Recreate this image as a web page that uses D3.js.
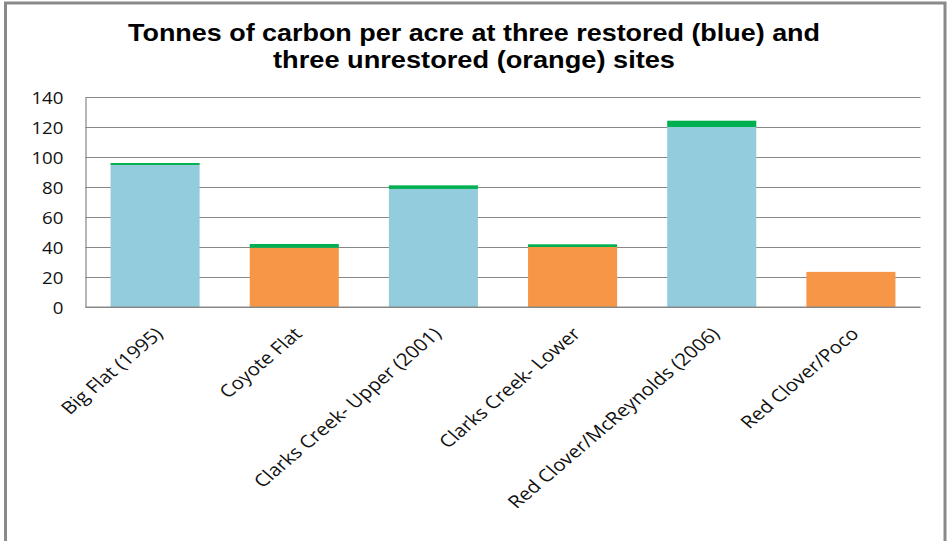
<!DOCTYPE html>
<html>
<head>
<meta charset="utf-8">
<script src="https://cdn.jsdelivr.net/npm/d3@7"></script>
<style>
  body { margin: 0; background: #fff; }
  svg { display: block; }
</style>
</head>
<body>
<div id="wrap"></div>
<script>
// chart data
const sites = ["Big Flat (1995)", "Coyote Flat", "Clarks Creek- Upper (2001)", "Clarks Creek- Lower", "Red Clover/McReynolds (2006)", "Red Clover/Poco"];
const restored = [true, false, true, false, true, false];
const baseCarbon = [94.7, 39.5, 78.7, 40, 120, 23.4];
const topCarbon = [1.3, 2.5, 2.4, 1.8, 4.2, 0];
const yTicks = [0, 20, 40, 60, 80, 100, 120, 140];
const titleLines = ["Tonnes of carbon per acre at three restored (blue) and", "three unrestored (orange) sites"];

const width = 947;
const height = 541;
const stretch = 1.17; // text in the picture is a bit wide

const margin = { left: 85.5, right: 26.5, top: 97, bottom: 234 };
const plotW = width - margin.left - margin.right;
const plotH = height - margin.top - margin.bottom;

const x = d3.scaleBand()
    .domain(sites)
    .range([0, plotW])
    .paddingInner(0.36)
    .paddingOuter(0.18);

const y = d3.scaleLinear()
    .domain([0, 140])
    .range([plotH, 0]);

const svg = d3.select("#wrap").append("svg")
    .attr("width", width)
    .attr("height", height);

svg.append("rect")
    .attr("width", width).attr("height", height)
    .attr("fill", "#fff");

// outer chart frame
svg.append("rect")
    .attr("x", 5.5).attr("y", 3)
    .attr("width", 939.5).attr("height", 580)
    .attr("fill", "none")
    .attr("stroke", "#8a8a8a")
    .attr("stroke-width", 3);

// title
svg.append("g")
    .selectAll("text")
    .data(titleLines)
    .join("text")
    .attr("x", 474)
    .attr("y", (d, i) => 41 + i * 27)
    .attr("text-anchor", "middle")
    .attr("font-family", "'Liberation Sans', Arial, sans-serif")
    .attr("font-weight", "bold")
    .attr("font-size", 24)
    .attr("textLength", (d, i) => i === 0 ? 692 : 402)
    .attr("lengthAdjust", "spacingAndGlyphs")
    .text(d => d);

const g = svg.append("g")
    .attr("transform", `translate(${margin.left},${margin.top})`);

// gridlines
const grid = d3.axisLeft(y)
    .tickValues(yTicks)
    .tickSize(-plotW)
    .tickFormat("");

g.append("g")
    .attr("class", "grid")
    .call(grid)
    .call(s => s.select(".domain").remove())
    .selectAll("line")
    .attr("stroke", "#878787")
    .attr("stroke-width", 1.2);

// stacked bars
const rows = sites.map((s, i) => ({ site: s, base: baseCarbon[i], top: topCarbon[i], restored: restored[i] }));

g.selectAll("rect.base")
    .data(rows)
    .join("rect")
    .attr("class", "base")
    .attr("x", d => x(d.site))
    .attr("width", x.bandwidth())
    .attr("y", d => y(d.base))
    .attr("height", d => y(0) - y(d.base))
    .attr("fill", d => d.restored ? "#93cddd" : "#f79646");

g.selectAll("rect.top")
    .data(rows.filter(d => d.top > 0))
    .join("rect")
    .attr("class", "top")
    .attr("x", d => x(d.site))
    .attr("width", x.bandwidth())
    .attr("y", d => y(d.base + d.top))
    .attr("height", d => y(d.base) - y(d.base + d.top))
    .attr("fill", "#00b050");

// y axis line + labels
const yAxis = d3.axisLeft(y)
    .tickValues(yTicks)
    .tickSize(0)
    .tickPadding(0);

const ya = g.append("g").call(yAxis);
ya.select(".domain").attr("stroke", "#878787").attr("stroke-width", 1.2);
ya.selectAll(".tick text")
    .attr("x", 0)
    .attr("dy", null)
    .attr("dominant-baseline", "central")
    .attr("font-family", "'Open Sans', sans-serif")
    .attr("font-size", 16)
    .attr("fill", "#111")
    .attr("transform", `translate(${-22},0) scale(${stretch},1)`);

// x axis baseline
g.append("line")
    .attr("x1", 0).attr("x2", plotW)
    .attr("y1", y(0)).attr("y2", y(0))
    .attr("stroke", "#878787")
    .attr("stroke-width", 1.2);

// rotated category labels
g.append("g")
    .selectAll("text")
    .data(sites)
    .join("text")
    .attr("transform", d => `translate(${x(d) + x.bandwidth() / 2 + 9},${plotH + 28}) scale(${stretch},1) rotate(-45)`)
    .attr("text-anchor", "end")
    .attr("font-family", "'Open Sans', sans-serif")
    .attr("font-size", 17.5)
    .attr("fill", "#111")
    .text(d => d);
</script>
</body>
</html>
